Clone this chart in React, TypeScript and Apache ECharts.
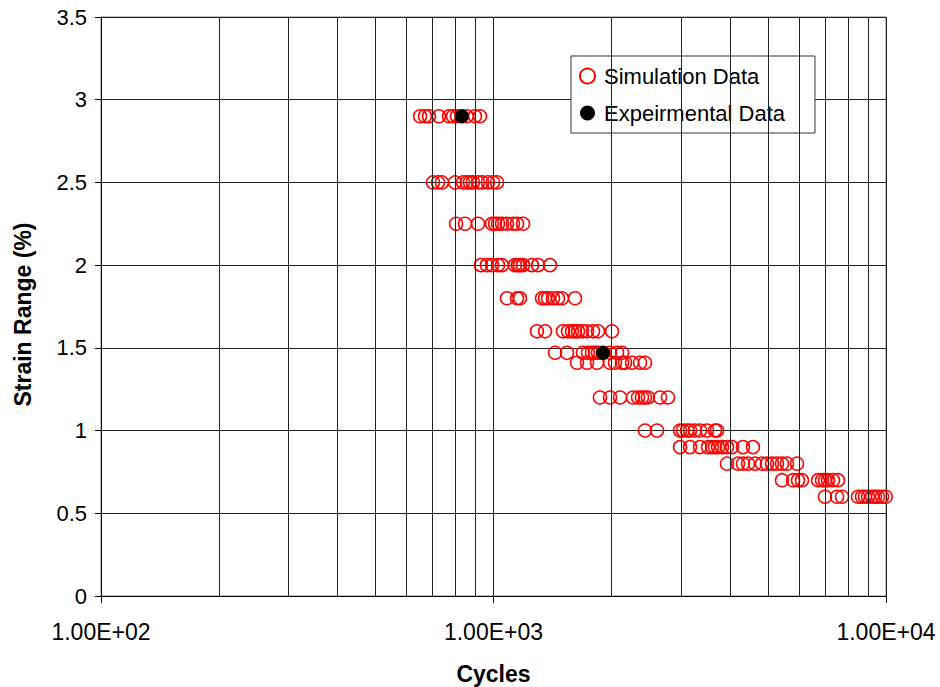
import React, { useEffect, useRef } from "react";
import * as echarts from "echarts";

const strainLevels = [2.9, 2.5, 2.25, 2.0, 1.8, 1.6, 1.47, 1.41, 1.2, 1.0, 0.9, 0.8, 0.7, 0.6];
const simCycles: number[][] = [
  [650, 669, 685, 726, 770, 788, 807, 831, 855, 897, 924],
  [701, 722, 739, 798, 836, 855, 871, 886, 913, 935, 968, 997, 1021],
  [803, 846, 913, 991, 1009, 1027, 1051, 1082, 1121, 1148, 1189],
  [929, 962, 991, 1027, 1051, 1134, 1154, 1168, 1189, 1253, 1299, 1393],
  [1082, 1148, 1168, 1329, 1353, 1377, 1418, 1460, 1495, 1613],
  [1290, 1353, 1503, 1548, 1585, 1613, 1642, 1681, 1731, 1793, 1846, 2004],
  [1435, 1539, 1690, 1741, 1782, 1814, 1846, 1901, 1981, 2064, 2126],
  [1632, 1731, 1835, 1981, 2040, 2126, 2163, 2254, 2362, 2432],
  [1867, 1981, 2101, 2267, 2335, 2389, 2432, 2475, 2656, 2783],
  [2432, 2610, 2987, 3040, 3112, 3167, 3262, 3359, 3500, 3667, 3711],
  [2987, 3167, 3359, 3520, 3604, 3667, 3733, 3821, 3935, 4052, 4322, 4582],
  [3935, 4197, 4322, 4450, 4637, 4832, 4975, 5124, 5277, 5433, 5595, 5933],
  [5433, 5797, 5968, 6109, 6711, 6869, 6992, 7116, 7328, 7546],
  [6992, 7503, 7727, 8487, 8688, 8842, 8999, 9212, 9376, 9541, 9768, 9980],
];
const expCycles = [830, 1900];
const expStrain = [2.9, 1.47];

const xTickLabels = ["1.00E+02", "1.00E+03", "1.00E+04"];
const minorGridCycles = [200, 300, 400, 500, 600, 700, 800, 900, 2000, 3000, 4000, 5000, 6000, 7000, 8000, 9000];

const FONT = "Liberation Sans, Arial, sans-serif";

export default function App() {
  const ref = useRef<HTMLDivElement>(null);
  useEffect(() => {
    if (!ref.current) return;
    const chart = echarts.init(ref.current, undefined, { renderer: "svg" });
    const simData: number[][] = [];
    strainLevels.forEach((s, i) => simCycles[i].forEach((c) => simData.push([c, s])));
    const expData = expCycles.map((c, i) => [c, expStrain[i]]);
    chart.setOption({
      animation: false,
      backgroundColor: "#fff",
      textStyle: { fontFamily: FONT },
      grid: {
        left: 101,
        top: 17,
        right: 54,
        bottom: 91,
        containLabel: false,
        outerBoundsMode: "none",
        show: true,
        borderColor: "#808080",
        borderWidth: 1,
        backgroundColor: "transparent",
      },
      legend: {
        orient: "vertical",
        left: 571,
        top: 56,
        padding: [9, 30, 9, 8],
        itemGap: 15,
        itemWidth: 15,
        itemHeight: 15,
        backgroundColor: "#fff",
        borderColor: "#333",
        borderWidth: 1,
        textStyle: { fontFamily: FONT, fontSize: 22, color: "#000", padding: [0, 0, 0, 4] },
        data: [
          { name: "Simulation Data", icon: "circle" },
          { name: "Expeirmental Data", icon: "circle" },
        ],
      },
      xAxis: {
        type: "log",
        logBase: 10,
        min: 100,
        max: 10000,
        name: "Cycles",
        nameLocation: "middle",
        nameGap: 66,
        nameTextStyle: { fontFamily: FONT, fontSize: 23, fontWeight: "bold", color: "#000" },
        axisLine: { show: true, onZero: false, lineStyle: { color: "#000", width: 1 } },
        axisTick: { show: true, inside: false, length: 7, lineStyle: { color: "#000" } },
        axisLabel: {
          fontFamily: FONT,
          fontSize: 23,
          color: "#000",
          margin: 24,
          formatter: (v: number) => xTickLabels[Math.round(Math.log10(v)) - 2] ?? "",
        },
        splitLine: { show: true, lineStyle: { color: "#222", width: 1 } },
      },
      yAxis: {
        type: "value",
        min: 0,
        max: 3.5,
        interval: 0.5,
        name: "Strain Range (%)",
        nameLocation: "middle",
        nameGap: 67,
        nameTextStyle: { fontFamily: FONT, fontSize: 23, fontWeight: "bold", color: "#000", padding: [0, 16, 0, 0] },
        axisLine: { show: true, lineStyle: { color: "#000", width: 1 } },
        axisTick: { show: true, inside: false, length: 6, lineStyle: { color: "#000" } },
        axisLabel: { fontFamily: FONT, fontSize: 22, color: "#000", margin: 14 },
        splitLine: { show: true, lineStyle: { color: "#222", width: 1 } },
      },
      series: [
        {
          name: "minor grid",
          type: "line",
          data: [],
          z: 0,
          silent: true,
          markLine: {
            silent: true,
            symbol: ["none", "none"],
            label: { show: false },
            lineStyle: { color: "#222", width: 1, type: "solid" },
            emphasis: { disabled: true },
            data: minorGridCycles.map((c) => ({ xAxis: c })),
          },
        },
        {
          name: "Simulation Data",
          type: "scatter",
          symbol: "circle",
          symbolSize: 13,
          z: 3,
          itemStyle: { color: "rgba(255,255,255,0)", borderColor: "#ff0000", borderWidth: 1.5, opacity: 1 },
          data: simData,
        },
        {
          name: "Expeirmental Data",
          type: "scatter",
          symbol: "circle",
          symbolSize: 14,
          z: 4,
          itemStyle: { color: "#000", opacity: 1 },
          data: expData,
        },
      ],
    });
    return () => chart.dispose();
  }, []);
  return <div ref={ref} style={{ position: "fixed", left: 0, top: 0, width: 940, height: 687 }} />;
}
